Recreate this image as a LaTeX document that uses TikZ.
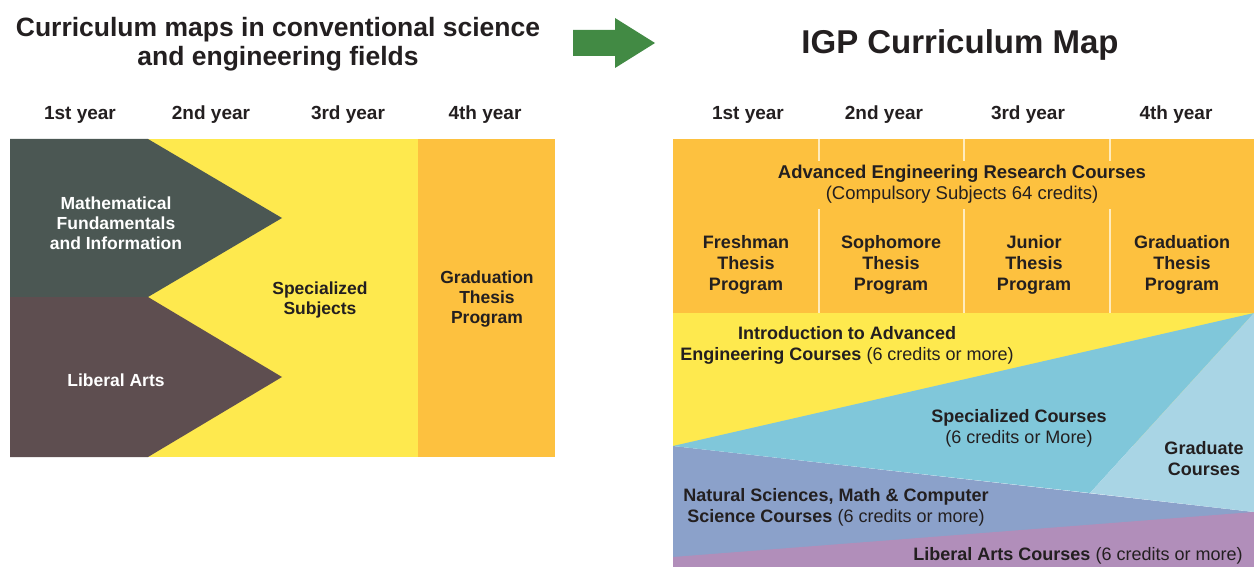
\documentclass[tikz,border=0pt]{standalone}
\usepackage{fontspec}
\setmainfont{Liberation Sans}
\definecolor{txt}{RGB}{35,31,32}
\definecolor{orng}{RGB}{253,193,63}
\definecolor{yel}{RGB}{254,233,78}
\definecolor{dgray}{RGB}{75,87,83}
\definecolor{brwn}{RGB}{94,78,80}
\definecolor{blu}{RGB}{128,199,218}
\definecolor{lblu}{RGB}{169,213,229}
\definecolor{peri}{RGB}{139,161,202}
\definecolor{purp}{RGB}{177,142,186}
\definecolor{grn}{RGB}{66,138,68}
\definecolor{sep}{RGB}{255,236,190}
\tikzset{
  lbl/.style={font=\fontsize{18}{21}\selectfont\bfseries, text=txt, align=center, inner sep=0pt, yshift=-2.5pt},
  wlbl/.style={lbl, text=white, font=\fontsize{17.5}{20}\selectfont\bfseries},
  yr/.style={lbl, font=\fontsize{19}{22}\selectfont\bfseries},
  ttl/.style={lbl, font=\fontsize{26.5}{29}\selectfont\bfseries},
  sepline/.style={draw=sep, line width=1.5pt},
}
\begin{document}
\begin{tikzpicture}[x=1pt,y=-1pt]
\useasboundingbox (0,0) rectangle (1254,567);
% titles
\node[ttl] (t1) at (278,42) {Curriculum maps in conventional science\\and engineering fields};
\node[ttl, font=\fontsize{33}{36}\selectfont\bfseries] (t2) at (960,42) {IGP Curriculum Map};
\fill[grn] (573,30) -- (615,30) -- (615,18) -- (655,43) -- (615,68) -- (615,56) -- (573,56) -- cycle;
% year labels
\node[yr] (ly1) at (80,112) {1st year};
\node[yr] (ly2) at (211,112) {2nd year};
\node[yr] (ly3) at (348,112) {3rd year};
\node[yr] (ly4) at (485,112) {4th year};
\node[yr] (ry1) at (748,112) {1st year};
\node[yr] (ry2) at (884,112) {2nd year};
\node[yr] (ry3) at (1028,112) {3rd year};
\node[yr] (ry4) at (1176,112) {4th year};
% left chart
\fill[yel] (10,139) rectangle (418,457);
\fill[orng] (418,139) rectangle (555,457);
\fill[dgray] (10,139) -- (148,139) -- (282,218) -- (148,297) -- (10,297) -- cycle;
\fill[brwn] (10,297) -- (148,297) -- (282,377) -- (148,457) -- (10,457) -- cycle;
\node[wlbl] (math) at (116,221) {Mathematical\\Fundamentals\\and Information};
\node[wlbl] (lib) at (116,378) {Liberal Arts};
\node[lbl, font=\fontsize{17.5}{20}\selectfont\bfseries] (spec) at (320,297) {Specialized\\Subjects};
\node[lbl, font=\fontsize{17.5}{20}\selectfont\bfseries] (grad) at (487,297) {Graduation\\Thesis\\Program};
% right chart
\fill[orng] (673,139) rectangle (1254,313);
\fill[yel] (673,313) rectangle (1254,446);
\fill[peri] (673,446) -- (1254,512) -- (1254,567) -- (673,567) -- cycle;
\fill[purp] (673,557) -- (1254,512) -- (1254,567) -- (673,567) -- cycle;
\fill[blu] (673,446) -- (1254,313) -- (1090,493) -- cycle;
\fill[lblu] (1254,313) -- (1090,493) -- (1254,512) -- cycle;
\foreach \x in {819,964,1110}{
  \draw[sepline] (\x,139) -- (\x,161);
  \draw[sepline] (\x,209) -- (\x,313);
}
\node[lbl, font=\fontsize{18.5}{21}\selectfont] (aer) at (962,182) {\bfseries Advanced Engineering Research Courses\\\mdseries (Compulsory Subjects 64 credits)};
\node[lbl] (fr) at (746,262) {Freshman\\Thesis\\Program};
\node[lbl] (so) at (891,262) {Sophomore\\Thesis\\Program};
\node[lbl] (ju) at (1034,262) {Junior\\Thesis\\Program};
\node[lbl] (gr) at (1182,262) {Graduation\\Thesis\\Program};
\node[lbl] (intro) at (847,343) {Introduction to Advanced\\Engineering Courses {\mdseries (6 credits or more)}};
\node[lbl] (sc) at (1019,426) {Specialized Courses\\{\mdseries (6 credits or More)}};
\node[lbl] (gc) at (1204,456) {Graduate\\Courses};
\node[lbl] (ns) at (836,505) {Natural Sciences, Math \& Computer\\Science Courses {\mdseries (6 credits or more)}};
\node[lbl] (la) at (1078,553) {Liberal Arts Courses {\mdseries (6 credits or more)}};
\end{tikzpicture}
\end{document}
